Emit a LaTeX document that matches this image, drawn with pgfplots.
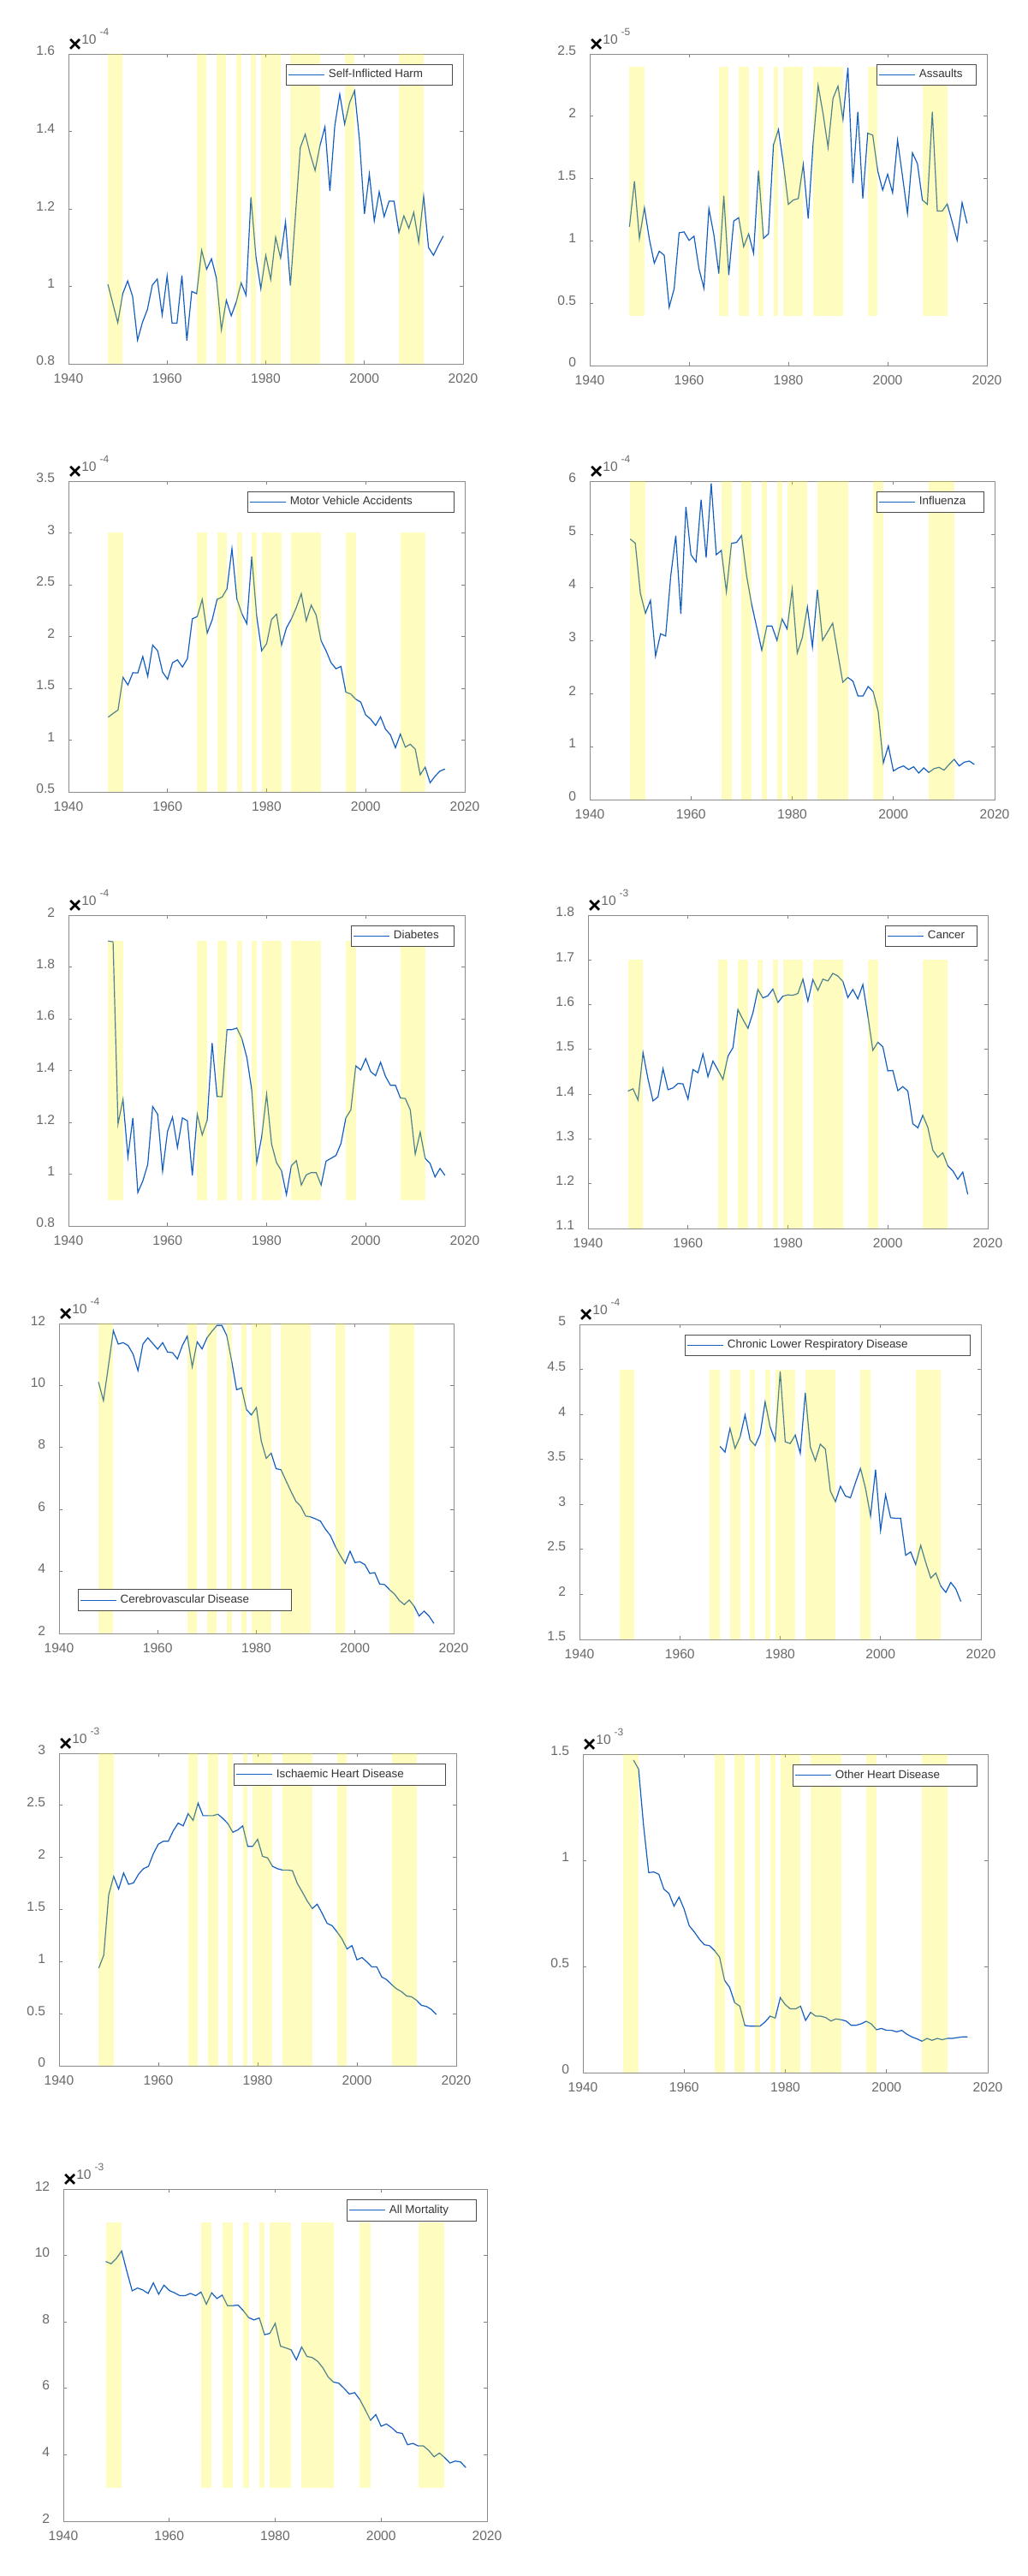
\documentclass[border=0pt]{standalone}
\usepackage{fontspec}
\setmainfont{Liberation Sans}
\usepackage{pgfplots}
\pgfplotsset{compat=1.18}
\definecolor{mblue}{RGB}{20,94,190}
\definecolor{tgray}{RGB}{105,105,105}
\pgfplotsset{
  mpanel/.style={
    scale only axis, anchor=south west, clip mode=individual,
    xmin=1940, xmax=2020, xtick={1940,1960,1980,2000,2020},
    axis line style={black!45},
    tick style={black!50, line width=0.4pt},
    major tick length=2.2pt, tick align=inside,
    ticklabel style={font=\fontsize{7.8}{8}\selectfont, text=tgray},
    /pgf/number format/assume math mode=true,
    /pgf/number format/1000 sep={},
    yticklabel style={xshift=-4.4pt, yshift=1.7pt},
    xticklabel style={yshift=-2.3pt},
    legend cell align=left,
    legend style={draw=black!70, line width=0.5pt, fill=white,
      font=\fontsize{6.7}{7}\selectfont, text=black!80, inner sep=1pt,
      nodes={inner sep=2pt}},
    legend image code/.code={\draw[#1] (0pt,0pt) -- (21pt,0pt);},
  },
  legNE/.style={legend style={at={(1,1)}, anchor=north east, xshift=-5.8pt, yshift=-5.9pt}},
  legSW/.style={legend style={at={(0,0)}, anchor=south west, xshift=11pt, yshift=13pt}},
  mline/.style={color=mblue, line width=0.6pt, mark=none},
  band/.style={fill=yellow, fill opacity=0.25, draw=none, forget plot},
}
\newcommand{\bands}[2]{%
\addplot[band] coordinates {(1948,#1)(1948,#2)(1951,#2)(1951,#1)};
\addplot[band] coordinates {(1966,#1)(1966,#2)(1968,#2)(1968,#1)};
\addplot[band] coordinates {(1970,#1)(1970,#2)(1972,#2)(1972,#1)};
\addplot[band] coordinates {(1974,#1)(1974,#2)(1975,#2)(1975,#1)};
\addplot[band] coordinates {(1977,#1)(1977,#2)(1978,#2)(1978,#1)};
\addplot[band] coordinates {(1979,#1)(1979,#2)(1983,#2)(1983,#1)};
\addplot[band] coordinates {(1985,#1)(1985,#2)(1991,#2)(1991,#1)};
\addplot[band] coordinates {(1996,#1)(1996,#2)(1998,#2)(1998,#1)};
\addplot[band] coordinates {(2007,#1)(2007,#2)(2012,#2)(2012,#1)};
}
\newcommand{\expo}[1]{%
\node[font=\fontsize{13}{13}\selectfont\bfseries, inner sep=0pt] at ([xshift=3.8pt,yshift=5pt]rel axis cs:0,1) {×};
\node[font=\fontsize{7.8}{8}\selectfont, text=tgray, inner sep=0pt] at ([xshift=12pt,yshift=8.5pt]rel axis cs:0,1) {10};
\node[font=\fontsize{6}{6}\selectfont, text=tgray, inner sep=0pt] at ([xshift=21pt,yshift=13pt]rel axis cs:0,1) {#1};
}
\begin{document}
\begin{tikzpicture}
\useasboundingbox (0,0) rectangle (600pt,1504.5pt);

% 1 Self-Inflicted Harm
\begin{axis}[mpanel, legNE, at={(40pt,1292pt)}, width=230.5pt, height=181pt,
  ymin=0.8, ymax=1.6, ytick={0.8,1,1.2,1.4,1.6}]
\addplot[mline] coordinates {(1948,1.005)(1949,0.955)(1950,0.906)(1951,0.981)(1952,1.014)(1953,0.974)(1954,0.861)(1955,0.907)(1956,0.940)(1957,1.003)(1958,1.019)(1959,0.926)(1960,1.027)(1961,0.905)(1962,0.905)(1963,1.028)(1964,0.860)(1965,0.987)(1966,0.981)(1967,1.093)(1968,1.044)(1969,1.071)(1970,1.021)(1971,0.888)(1972,0.964)(1973,0.924)(1974,0.959)(1975,1.009)(1976,0.977)(1977,1.230)(1978,1.077)(1979,0.994)(1980,1.080)(1981,1.018)(1982,1.127)(1983,1.073)(1984,1.166)(1985,1.002)(1986,1.180)(1987,1.358)(1988,1.393)(1989,1.342)(1990,1.299)(1991,1.364)(1992,1.412)(1993,1.246)(1994,1.415)(1995,1.496)(1996,1.419)(1997,1.474)(1998,1.505)(1999,1.378)(2000,1.187)(2001,1.290)(2002,1.169)(2003,1.244)(2004,1.180)(2005,1.220)(2006,1.220)(2007,1.139)(2008,1.182)(2009,1.150)(2010,1.191)(2011,1.114)(2012,1.233)(2013,1.100)(2014,1.080)(2015,1.106)(2016,1.130)};
\addlegendentry{\makebox[69.5pt][l]{Self-Inflicted Harm}}
\bands{0.8}{1.6}
\expo{-4}
\end{axis}

% 2 Assaults
\begin{axis}[mpanel, legNE, at={(344.5pt,1291pt)}, width=232pt, height=182pt,
  ymin=0, ymax=2.5, ytick={0,0.5,1,1.5,2,2.5}]
\addplot[mline] coordinates {(1948,1.113)(1949,1.478)(1950,1.020)(1951,1.266)(1952,1.015)(1953,0.821)(1954,0.917)(1955,0.885)(1956,0.468)(1957,0.616)(1958,1.065)(1959,1.072)(1960,1.004)(1961,1.038)(1962,0.776)(1963,0.620)(1964,1.259)(1965,1.049)(1966,0.737)(1967,1.362)(1968,0.725)(1969,1.159)(1970,1.186)(1971,0.953)(1972,1.056)(1973,0.901)(1974,1.563)(1975,1.020)(1976,1.056)(1977,1.768)(1978,1.893)(1979,1.620)(1980,1.293)(1981,1.328)(1982,1.339)(1983,1.613)(1984,1.179)(1985,1.784)(1986,2.247)(1987,2.019)(1988,1.750)(1989,2.144)(1990,2.242)(1991,1.973)(1992,2.388)(1993,1.464)(1994,2.035)(1995,1.341)(1996,1.864)(1997,1.848)(1998,1.563)(1999,1.407)(2000,1.535)(2001,1.385)(2002,1.807)(2003,1.517)(2004,1.220)(2005,1.706)(2006,1.620)(2007,1.328)(2008,1.293)(2009,2.035)(2010,1.239)(2011,1.239)(2012,1.296)(2013,1.152)(2014,1.004)(2015,1.307)(2016,1.140)};
\addlegendentry{\makebox[30.5pt][l]{Assaults}}
\bands{0.4}{2.4}
\expo{-5}
\end{axis}

% 3 Motor Vehicle Accidents
\begin{axis}[mpanel, legNE, at={(40pt,1042pt)}, width=231.5pt, height=181.5pt,
  ymin=0.5, ymax=3.5, ytick={0.5,1,1.5,2,2.5,3,3.5}]
\addplot[mline] coordinates {(1948,1.221)(1949,1.257)(1950,1.290)(1951,1.606)(1952,1.532)(1953,1.650)(1954,1.648)(1955,1.807)(1956,1.615)(1957,1.917)(1958,1.862)(1959,1.656)(1960,1.587)(1961,1.747)(1962,1.774)(1963,1.705)(1964,1.785)(1965,2.170)(1966,2.193)(1967,2.358)(1968,2.033)(1969,2.159)(1970,2.358)(1971,2.380)(1972,2.460)(1973,2.848)(1974,2.363)(1975,2.220)(1976,2.124)(1977,2.771)(1978,2.193)(1979,1.862)(1980,1.931)(1981,2.165)(1982,2.215)(1983,1.917)(1984,2.083)(1985,2.170)(1986,2.281)(1987,2.413)(1988,2.151)(1989,2.303)(1990,2.206)(1991,1.959)(1992,1.862)(1993,1.747)(1994,1.689)(1995,1.711)(1996,1.463)(1997,1.444)(1998,1.394)(1999,1.367)(2000,1.243)(2001,1.202)(2002,1.141)(2003,1.224)(2004,1.105)(2005,1.050)(2006,0.926)(2007,1.058)(2008,0.932)(2009,0.960)(2010,0.913)(2011,0.665)(2012,0.739)(2013,0.588)(2014,0.651)(2015,0.701)(2016,0.720)};
\addlegendentry{\makebox[93pt][l]{Motor Vehicle Accidents}}
\bands{0.5}{3}
\expo{-4}
\end{axis}

% 4 Influenza
\begin{axis}[mpanel, legNE, at={(344.5pt,1037.5pt)}, width=236.5pt, height=186pt,
  ymin=0, ymax=6, ytick={0,1,2,3,4,5,6}]
\addplot[mline] coordinates {(1948,4.909)(1949,4.828)(1950,3.887)(1951,3.511)(1952,3.753)(1953,2.704)(1954,3.124)(1955,3.081)(1956,4.210)(1957,4.973)(1958,3.500)(1959,5.511)(1960,4.613)(1961,4.478)(1962,5.651)(1963,4.559)(1964,5.957)(1965,4.613)(1966,4.694)(1967,3.914)(1968,4.828)(1969,4.844)(1970,4.973)(1971,4.210)(1972,3.672)(1973,3.242)(1974,2.812)(1975,3.269)(1976,3.269)(1977,3.000)(1978,3.403)(1979,3.215)(1980,3.968)(1981,2.758)(1982,3.054)(1983,3.629)(1984,2.876)(1985,3.952)(1986,3.000)(1987,3.161)(1988,3.323)(1989,2.758)(1990,2.210)(1991,2.301)(1992,2.231)(1993,1.952)(1994,1.952)(1995,2.129)(1996,2.032)(1997,1.656)(1998,0.688)(1999,1.011)(2000,0.538)(2001,0.597)(2002,0.634)(2003,0.565)(2004,0.618)(2005,0.500)(2006,0.597)(2007,0.511)(2008,0.581)(2009,0.608)(2010,0.554)(2011,0.661)(2012,0.758)(2013,0.634)(2014,0.704)(2015,0.726)(2016,0.661)};
\addlegendentry{\makebox[35pt][l]{Influenza}}
\bands{0}{6}
\expo{-4}
\end{axis}

% 5 Diabetes
\begin{axis}[mpanel, legNE, at={(40pt,788.5pt)}, width=231.5pt, height=181.5pt,
  ymin=0.8, ymax=2, ytick={0.8,1,1.2,1.4,1.6,1.8,2}]
\addplot[mline] coordinates {(1948,1.900)(1949,1.897)(1950,1.193)(1951,1.289)(1952,1.066)(1953,1.217)(1954,0.929)(1955,0.973)(1956,1.037)(1957,1.261)(1958,1.231)(1959,1.011)(1960,1.165)(1961,1.220)(1962,1.103)(1963,1.217)(1964,1.206)(1965,0.995)(1966,1.231)(1967,1.151)(1968,1.209)(1969,1.506)(1970,1.300)(1971,1.299)(1972,1.558)(1973,1.558)(1974,1.564)(1975,1.523)(1976,1.451)(1977,1.325)(1978,1.044)(1979,1.143)(1980,1.308)(1981,1.116)(1982,1.044)(1983,1.013)(1984,0.921)(1985,1.033)(1986,1.052)(1987,0.958)(1988,0.997)(1989,1.006)(1990,1.006)(1991,0.958)(1992,1.050)(1993,1.061)(1994,1.072)(1995,1.118)(1996,1.217)(1997,1.248)(1998,1.418)(1999,1.402)(2000,1.446)(2001,1.396)(2002,1.380)(2003,1.432)(2004,1.377)(2005,1.343)(2006,1.343)(2007,1.294)(2008,1.292)(2009,1.248)(2010,1.077)(2011,1.162)(2012,1.061)(2013,1.041)(2014,0.989)(2015,1.022)(2016,0.995)};
\addlegendentry{\makebox[32.5pt][l]{Diabetes}}
\bands{0.9}{1.9}
\expo{-4}
\end{axis}

% 6 Cancer
\begin{axis}[mpanel, legNE, at={(343.5pt,787pt)}, width=233.5pt, height=183pt,
  ymin=1.1, ymax=1.8, ytick={1.1,1.2,1.3,1.4,1.5,1.6,1.7,1.8}]
\addplot[mline] coordinates {(1948,1.407)(1949,1.412)(1950,1.387)(1951,1.493)(1952,1.434)(1953,1.385)(1954,1.394)(1955,1.457)(1956,1.410)(1957,1.414)(1958,1.424)(1959,1.423)(1960,1.389)(1961,1.455)(1962,1.448)(1963,1.490)(1964,1.439)(1965,1.474)(1966,1.454)(1967,1.433)(1968,1.485)(1969,1.504)(1970,1.589)(1971,1.567)(1972,1.547)(1973,1.582)(1974,1.634)(1975,1.615)(1976,1.620)(1977,1.635)(1978,1.605)(1979,1.619)(1980,1.622)(1981,1.621)(1982,1.625)(1983,1.657)(1984,1.608)(1985,1.656)(1986,1.632)(1987,1.657)(1988,1.653)(1989,1.670)(1990,1.664)(1991,1.652)(1992,1.616)(1993,1.634)(1994,1.613)(1995,1.645)(1996,1.575)(1997,1.498)(1998,1.516)(1999,1.506)(2000,1.452)(2001,1.453)(2002,1.408)(2003,1.417)(2004,1.407)(2005,1.334)(2006,1.325)(2007,1.353)(2008,1.326)(2009,1.275)(2010,1.259)(2011,1.269)(2012,1.240)(2013,1.229)(2014,1.210)(2015,1.226)(2016,1.176)};
\addlegendentry{\makebox[26pt][l]{Cancer}}
\bands{1.1}{1.7}
\expo{-3}
\end{axis}

% 7 Cerebrovascular Disease
\begin{axis}[mpanel, legSW, at={(34.5pt,550.5pt)}, width=230.5pt, height=181pt,
  ymin=2, ymax=12, ytick={2,4,6,8,10,12}]
\addplot[mline] coordinates {(1948,10.111)(1949,9.512)(1950,10.618)(1951,11.770)(1952,11.336)(1953,11.382)(1954,11.290)(1955,11.014)(1956,10.479)(1957,11.336)(1958,11.539)(1959,11.355)(1960,11.171)(1961,11.382)(1962,11.078)(1963,11.060)(1964,10.857)(1965,11.290)(1966,11.594)(1967,10.599)(1968,11.410)(1969,11.180)(1970,11.539)(1971,11.751)(1972,11.935)(1973,11.935)(1974,11.613)(1975,10.783)(1976,9.862)(1977,9.926)(1978,9.217)(1979,9.051)(1980,9.290)(1981,8.203)(1982,7.650)(1983,7.816)(1984,7.318)(1985,7.281)(1986,6.931)(1987,6.590)(1988,6.267)(1989,6.101)(1990,5.788)(1991,5.760)(1992,5.696)(1993,5.622)(1994,5.364)(1995,5.161)(1996,4.811)(1997,4.516)(1998,4.258)(1999,4.654)(2000,4.286)(2001,4.313)(2002,4.221)(2003,3.935)(2004,3.963)(2005,3.594)(2006,3.576)(2007,3.410)(2008,3.272)(2009,3.060)(2010,2.931)(2011,3.078)(2012,2.876)(2013,2.562)(2014,2.719)(2015,2.562)(2016,2.323)};
\addlegendentry{\makebox[96.7pt][l]{Cerebrovascular Disease}}
\bands{2}{12}
\expo{-4}
\end{axis}

% 8 Chronic Lower Respiratory Disease
\begin{axis}[mpanel, legNE, at={(338.5pt,547pt)}, width=234.5pt, height=184pt,
  ymin=1.5, ymax=5, ytick={1.5,2,2.5,3,3.5,4,4.5,5}]
\addplot[mline] coordinates {(1968,3.644)(1969,3.581)(1970,3.844)(1971,3.622)(1972,3.749)(1973,3.993)(1974,3.717)(1975,3.654)(1976,3.780)(1977,4.138)(1978,3.860)(1979,3.708)(1980,4.477)(1981,3.695)(1982,3.676)(1983,3.771)(1984,3.568)(1985,4.240)(1986,3.638)(1987,3.486)(1988,3.670)(1989,3.613)(1990,3.147)(1991,3.030)(1992,3.201)(1993,3.093)(1994,3.074)(1995,3.242)(1996,3.400)(1997,3.179)(1998,2.871)(1999,3.385)(2000,2.710)(2001,3.106)(2002,2.852)(2003,2.846)(2004,2.846)(2005,2.434)(2006,2.472)(2007,2.333)(2008,2.545)(2009,2.355)(2010,2.181)(2011,2.238)(2012,2.092)(2013,2.023)(2014,2.133)(2015,2.061)(2016,1.921)};
\addlegendentry{\makebox[139pt][l]{Chronic Lower Respiratory Disease}}
\bands{1.5}{4.5}
\expo{-4}
\end{axis}

% 9 Ischaemic Heart Disease
\begin{axis}[mpanel, legNE, at={(34.5pt,298pt)}, width=232pt, height=182.5pt,
  ymin=0, ymax=3, ytick={0,0.5,1,1.5,2,2.5,3}]
\addplot[mline] coordinates {(1948,0.938)(1949,1.061)(1950,1.641)(1951,1.819)(1952,1.696)(1953,1.851)(1954,1.742)(1955,1.756)(1956,1.838)(1957,1.892)(1958,1.914)(1959,2.037)(1960,2.128)(1961,2.155)(1962,2.155)(1963,2.256)(1964,2.330)(1965,2.303)(1966,2.420)(1967,2.357)(1968,2.521)(1969,2.401)(1970,2.401)(1971,2.401)(1972,2.415)(1973,2.374)(1974,2.325)(1975,2.242)(1976,2.264)(1977,2.303)(1978,2.106)(1979,2.106)(1980,2.174)(1981,2.010)(1982,1.996)(1983,1.914)(1984,1.892)(1985,1.879)(1986,1.879)(1987,1.873)(1988,1.750)(1989,1.668)(1990,1.581)(1991,1.510)(1992,1.551)(1993,1.463)(1994,1.367)(1995,1.345)(1996,1.285)(1997,1.217)(1998,1.121)(1999,1.154)(2000,1.017)(2001,1.039)(2002,0.998)(2003,0.949)(2004,0.949)(2005,0.853)(2006,0.826)(2007,0.779)(2008,0.738)(2009,0.711)(2010,0.670)(2011,0.662)(2012,0.629)(2013,0.580)(2014,0.569)(2015,0.541)(2016,0.492)};
\addlegendentry{\makebox[96pt][l]{Ischaemic Heart Disease}}
\bands{0}{3}
\expo{-3}
\end{axis}

% 10 Other Heart Disease
\begin{axis}[mpanel, legNE, at={(340.5pt,294pt)}, width=236.5pt, height=186pt,
  ymin=0, ymax=1.5, ytick={0,0.5,1,1.5}]
\addplot[mline] coordinates {(1950,1.472)(1951,1.429)(1952,1.160)(1953,0.942)(1954,0.945)(1955,0.934)(1956,0.864)(1957,0.844)(1958,0.784)(1959,0.827)(1960,0.770)(1961,0.692)(1962,0.663)(1963,0.629)(1964,0.602)(1965,0.598)(1966,0.575)(1967,0.544)(1968,0.434)(1969,0.401)(1970,0.329)(1971,0.313)(1972,0.222)(1973,0.219)(1974,0.219)(1975,0.219)(1976,0.239)(1977,0.266)(1978,0.257)(1979,0.353)(1980,0.320)(1981,0.300)(1982,0.300)(1983,0.313)(1984,0.246)(1985,0.284)(1986,0.266)(1987,0.266)(1988,0.259)(1989,0.243)(1990,0.253)(1991,0.249)(1992,0.243)(1993,0.223)(1994,0.223)(1995,0.230)(1996,0.242)(1997,0.229)(1998,0.202)(1999,0.208)(2000,0.199)(2001,0.199)(2002,0.192)(2003,0.199)(2004,0.181)(2005,0.168)(2006,0.159)(2007,0.148)(2008,0.161)(2009,0.152)(2010,0.161)(2011,0.155)(2012,0.161)(2013,0.161)(2014,0.165)(2015,0.168)(2016,0.168)};
\addlegendentry{\makebox[80pt][l]{Other Heart Disease}}
\bands{0}{1.5}
\expo{-3}
\end{axis}

% 11 All Mortality
\begin{axis}[mpanel, legNE, at={(37pt,32pt)}, width=247.5pt, height=194pt,
  ymin=2, ymax=12, ytick={2,4,6,8,10,12}]
\addplot[mline] coordinates {(1948,9.820)(1949,9.751)(1950,9.906)(1951,10.137)(1952,9.519)(1953,8.936)(1954,9.021)(1955,8.961)(1956,8.858)(1957,9.176)(1958,8.833)(1959,9.107)(1960,8.944)(1961,8.876)(1962,8.790)(1963,8.790)(1964,8.858)(1965,8.790)(1966,8.901)(1967,8.532)(1968,8.876)(1969,8.704)(1970,8.807)(1971,8.489)(1972,8.489)(1973,8.506)(1974,8.335)(1975,8.129)(1976,8.060)(1977,8.120)(1978,7.614)(1979,7.657)(1980,7.957)(1981,7.270)(1982,7.219)(1983,7.159)(1984,6.858)(1985,7.245)(1986,6.961)(1987,6.927)(1988,6.815)(1989,6.618)(1990,6.343)(1991,6.189)(1992,6.155)(1993,6.000)(1994,5.828)(1995,5.871)(1996,5.657)(1997,5.356)(1998,5.039)(1999,5.210)(2000,4.858)(2001,4.927)(2002,4.815)(2003,4.670)(2004,4.644)(2005,4.300)(2006,4.343)(2007,4.266)(2008,4.266)(2009,4.129)(2010,3.940)(2011,4.052)(2012,3.914)(2013,3.751)(2014,3.811)(2015,3.785)(2016,3.614)};
\addlegendentry{\makebox[48pt][l]{All Mortality}}
\bands{3}{11}
\expo{-3}
\end{axis}
\end{tikzpicture}
\end{document}
